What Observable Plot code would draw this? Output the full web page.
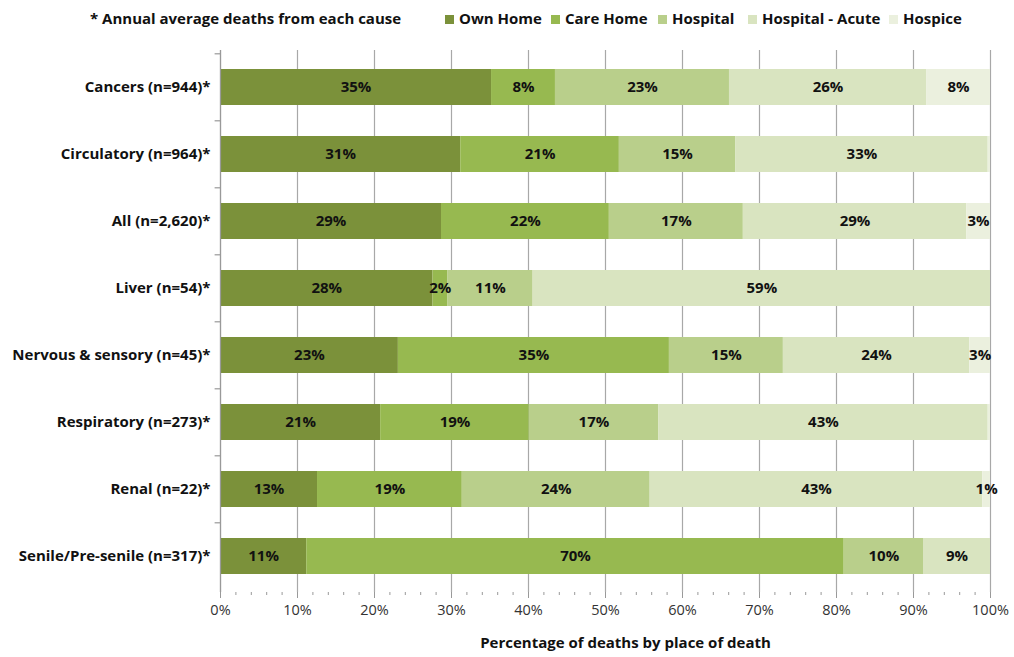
<!DOCTYPE html>
<html>
<head>
<meta charset="utf-8">
<script src="https://cdn.jsdelivr.net/npm/d3@7"></script>
<script src="https://cdn.jsdelivr.net/npm/@observablehq/plot@0.6"></script>
<style>
  body { margin: 0; background: #fff; font-family: "Open Sans", Lato, sans-serif; }
  #wrap { position: relative; width: 1014px; height: 657px; }
  #legend { position: relative; height: 40px; font-size: 15px; font-weight: bold; color: #111; }
  #legend span { position: absolute; top: 8px; white-space: nowrap; }
  #legend i { display: inline-block; width: 9px; height: 9px; margin-right: 5px; vertical-align: 0px; }
  #chart svg { display: block; }
</style>
</head>
<body>
<div id="wrap">
  <div id="legend"></div>
  <div id="chart"></div>
</div>
<script>
const causes = [
  "Cancers (n=944)*",
  "Circulatory (n=964)*",
  "All (n=2,620)*",
  "Liver (n=54)*",
  "Nervous & sensory (n=45)*",
  "Respiratory (n=273)*",
  "Renal (n=22)*",
  "Senile/Pre-senile (n=317)*"
];
const places = ["Own Home", "Care Home", "Hospital", "Hospital - Acute", "Hospice"];
const colors = ["#7b913a", "#97b950", "#b9cf8b", "#d9e4c0", "#ebf0de"];

const ownHome       = [35.2, 31.2, 28.7, 27.6, 23.1, 20.8, 12.6, 11.2];
const careHome      = [ 8.3, 20.6, 21.8,  1.9, 35.2, 19.3, 18.8, 69.8];
const hospital      = [22.6, 15.1, 17.4, 11.1, 14.8, 16.8, 24.4, 10.3];
const hospitalAcute = [25.6, 32.8, 29.0, 59.4, 24.2, 42.8, 43.2,  8.7];
const hospice       = [ 8.3,  0.3,  3.1,  0.0,  2.7,  0.3,  1.0,  0.0];

const xTicks = [0, 10, 20, 30, 40, 50, 60, 70, 80, 90, 100];
const xMinorTicks = d3.range(0, 101, 2);
const legendNote = "* Annual average deaths from each cause";
const xLabel = "Percentage of deaths by place of death";

const series = [ownHome, careHome, hospital, hospitalAcute, hospice];
const data = [];
places.forEach((p, j) => causes.forEach((c, i) => data.push({cause: c, place: p, value: series[j][i]})));

// Legend (HTML, above the SVG)
const legend = document.getElementById("legend");
const legendPos = [90, 445, 551, 658, 748, 889];
const note = document.createElement("span");
note.textContent = legendNote;
note.style.left = legendPos[0] + "px";
legend.appendChild(note);
places.forEach((p, j) => {
  const s = document.createElement("span");
  s.style.left = legendPos[j + 1] + "px";
  s.innerHTML = `<i style="background:${colors[j]}"></i>${p}`;
  legend.appendChild(s);
});

const stack = {x: "value", y: "cause", z: "place", order: places};

const chart = Plot.plot({
  width: 1014,
  height: 617,
  marginTop: 10,
  marginBottom: 65,
  marginLeft: 220,
  marginRight: 24,
  style: {fontFamily: "'Open Sans', Lato, sans-serif", fontSize: "14px", color: "#111", background: "#fff"},
  x: {domain: [0, 100]},
  y: {domain: causes, paddingInner: 0.466, paddingOuter: 0.252},
  color: {domain: places, range: colors},
  marks: [
    Plot.gridX({ticks: xTicks, stroke: "#a8a8a8", strokeOpacity: 1, strokeWidth: 1.2}),
    Plot.barX(data, Plot.stackX({...stack, fill: "place"})),
    Plot.text(data.filter(d => Math.round(d.value) >= 1), Plot.stackX({
      ...stack,
      text: d => Math.round(d.value) + "%",
      fill: "#111",
      fontWeight: "bold",
      fontSize: 15
    })),
    Plot.ruleX([0], {stroke: "#999", strokeWidth: 1.2}),
    Plot.ruleY(causes, {y: d => d, x1: -0.7, x2: 0, dy: -33.7, stroke: "#999", strokeWidth: 1.2}),
    Plot.axisX({ticks: xMinorTicks, tickSize: 3, tickFormat: () => "", label: null, stroke: "#999"}),
    Plot.axisX({ticks: xTicks, tickSize: 6, tickPadding: 6, tickFormat: d => d + "%", label: null, stroke: "#999", line: true, fill: "#333", fontSize: 14.5}),
    Plot.axisY({tickSize: 0, tickPadding: 10, label: null, fontWeight: "bold", fill: "#111", fontSize: 15}),
    Plot.text([xLabel], {frameAnchor: "bottom", dy: 55, dx: 20, fontWeight: "bold", fontSize: 15, fill: "#111"})
  ]
});
document.getElementById("chart").appendChild(chart);
</script>
</body>
</html>
